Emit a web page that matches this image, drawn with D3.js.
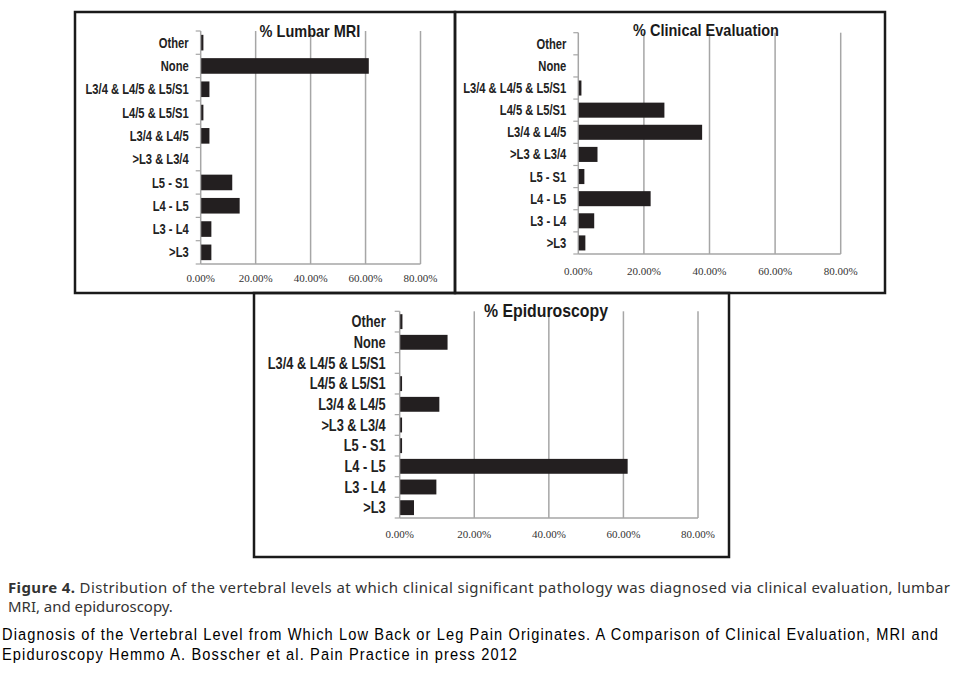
<!DOCTYPE html>
<html>
<head>
<meta charset="utf-8">
<script src="https://cdn.jsdelivr.net/npm/d3@7"></script>
<style>
  body { margin: 0; background: #fff; }
</style>
</head>
<body>
<div id="quadros"></div>
<script>
var width = 957;
var height = 680;

// categories, bottom to top as in the original chart
var categories = [">L3", "L3 - L4", "L4 - L5", "L5 - S1", ">L3 & L3/4",
                  "L3/4 & L4/5", "L4/5 & L5/S1", "L3/4 & L4/5 & L5/S1", "None", "Other"];

var mriValues      = [0.037, 0.037, 0.14, 0.113, 0, 0.03, 0.008, 0.03, 0.61, 0.008];
var clinicalValues = [0.02, 0.047, 0.219, 0.017, 0.057, 0.376, 0.261, 0.008, 0, 0];
var epiValues      = [0.037, 0.097, 0.61, 0.005, 0.005, 0.105, 0.005, 0, 0.127, 0.006];

var tickValues = [0, 0.2, 0.4, 0.6, 0.8];
var titles = ["% Lumbar MRI", "% Clinical Evaluation", "% Epiduroscopy"];

var svg;
var sans = "'Liberation Sans', Arial, sans-serif";

function panel(values, title, p) {
  var g = svg.append('g');

  var x = d3.scaleLinear().domain([0, 0.8]).range([p.x0, p.x1]);
  var y = d3.scaleBand().domain(categories.slice().reverse())
            .range([p.y0, p.y1]).paddingInner(p.pad).paddingOuter(p.pad / 2);

  // grid lines
  g.selectAll('line.grid').data(tickValues.slice(1)).enter().append('line')
    .attr('x1', function (d) { return x(d); })
    .attr('x2', function (d) { return x(d); })
    .attr('y1', p.y0)
    .attr('y2', p.y1)
    .attr('stroke', '#a6a6a6')
    .attr('stroke-width', 1.5);

  // axis lines
  g.append('line').attr('x1', x(0)).attr('x2', x(0)).attr('y1', p.y0).attr('y2', p.y1)
    .attr('stroke', '#a6a6a6').attr('stroke-width', 1.5);
  g.append('line').attr('x1', x(0)).attr('x2', x(0.8)).attr('y1', p.y1).attr('y2', p.y1)
    .attr('stroke', '#a6a6a6').attr('stroke-width', 1.5);

  // category boundary ticks
  var bounds = d3.range(categories.length + 1).map(function (i) { return p.y0 + i * (p.y1 - p.y0) / categories.length; });
  g.selectAll('line.ctick').data(bounds).enter().append('line')
    .attr('x1', x(0) - 5).attr('x2', x(0))
    .attr('y1', function (d) { return d; })
    .attr('y2', function (d) { return d; })
    .attr('stroke', '#a6a6a6').attr('stroke-width', 1.2);

  // bars
  g.selectAll('rect.bar').data(categories).enter().append('rect')
    .attr('x', x(0) + 0.5)
    .attr('y', function (d) { return y(d); })
    .attr('width', function (d, i) { return Math.max(0, x(values[i]) - x(0)); })
    .attr('height', y.bandwidth())
    .attr('fill', '#231f20');

  // category labels (condensed like the original)
  g.selectAll('text.cat').data(categories).enter().append('text')
    .attr('transform', function (d) {
      return 'translate(' + (x(0) - p.gap) + ',' + (y(d) + y.bandwidth() / 2) + ') scale(0.8,1)';
    })
    .attr('dy', '0.36em')
    .style('font-family', sans)
    .style('font-weight', 'bold')
    .style('font-size', p.catSize + 'px')
    .style('fill', '#222')
    .style('text-anchor', 'end')
    .text(function (d) { return d; });

  // value tick labels
  g.selectAll('text.tick').data(tickValues).enter().append('text')
    .attr('x', function (d) { return x(d); })
    .attr('y', p.tickY)
    .style('font-family', "'Liberation Serif', 'Times New Roman', serif")
    .style('font-size', '11px')
    .style('fill', '#333')
    .style('text-anchor', 'middle')
    .text(function (d) { return d3.format('.2%')(d); });

  // title
  g.append('text')
    .attr('transform', 'translate(' + p.titleX + ',' + p.titleY + ') scale(0.88,1)')
    .style('font-family', sans)
    .style('font-weight', 700)
    .style('font-size', p.titleSize + 'px')
    .style('fill', '#1a1a1a')
    .style('text-anchor', 'middle')
    .text(title);

  // frame
  g.append('rect')
    .attr('x', p.box[0]).attr('y', p.box[1])
    .attr('width', p.box[2] - p.box[0]).attr('height', p.box[3] - p.box[1])
    .attr('fill', 'none').attr('stroke', '#1a1a1a').attr('stroke-width', 2.5);
}

function print(text, x, y, opts) {
  var sx = opts.scale || 1;
  var t = svg.append('text')
    .attr('transform', 'translate(' + x + ',' + y + ') scale(' + sx + ',1)')
    .style('font-family', opts.family)
    .style('font-size', opts.size + 'px')
    .style('fill', opts.color);
  if (opts.length) t.attr('textLength', opts.length / sx).attr('lengthAdjust', 'spacing');
  if (opts.bold) {
    t.append('tspan').style('font-weight', 'bold').text(opts.bold);
  }
  t.append('tspan').text(text);
}

function init() {
  svg = d3.select(document.getElementById('quadros')).append('svg')
    .attr('width', width)
    .attr('height', height);

  panel(mriValues, titles[0], {
    box: [75, 12, 455, 293], x0: 200.7, x1: 420.5, y0: 31, y1: 264, pad: 0.33,
    gap: 12, catSize: 14, tickY: 282, titleX: 310, titleY: 37, titleSize: 16.5
  });
  panel(clinicalValues, titles[1], {
    box: [455, 12, 885, 293], x0: 578.3, x1: 840.7, y0: 32.7, y1: 254, pad: 0.32,
    gap: 12, catSize: 14, tickY: 275, titleX: 706, titleY: 36, titleSize: 16.5
  });
  panel(epiValues, titles[2], {
    box: [254, 293, 729, 557], x0: 399.7, x1: 698, y0: 311.3, y1: 518, pad: 0.28,
    gap: 14, catSize: 16, tickY: 538, titleX: 546, titleY: 317, titleSize: 18
  });

  var capFont = "'Noto Sans', 'Open Sans', sans-serif";
  print(' Distribution of the vertebral levels at which clinical significant pathology was diagnosed via clinical evaluation, lumbar',
        8, 592.5, { family: capFont, size: 14, color: '#333', bold: 'Figure 4.', length: 942, scale: 1.07 });
  print('MRI, and epiduroscopy.', 8, 611.5, { family: capFont, size: 14, color: '#333', scale: 1.07 });

  print('Diagnosis of the Vertebral Level from Which Low Back or Leg Pain Originates. A Comparison of Clinical Evaluation, MRI and',
        2, 640, { family: sans, size: 17, color: '#000', length: 936, scale: 0.86 });
  print('Epiduroscopy Hemmo A. Bosscher et al. Pain Practice in press 2012',
        2, 660, { family: sans, size: 17, color: '#000', length: 515, scale: 0.86 });
}

init();
</script>
</body>
</html>
